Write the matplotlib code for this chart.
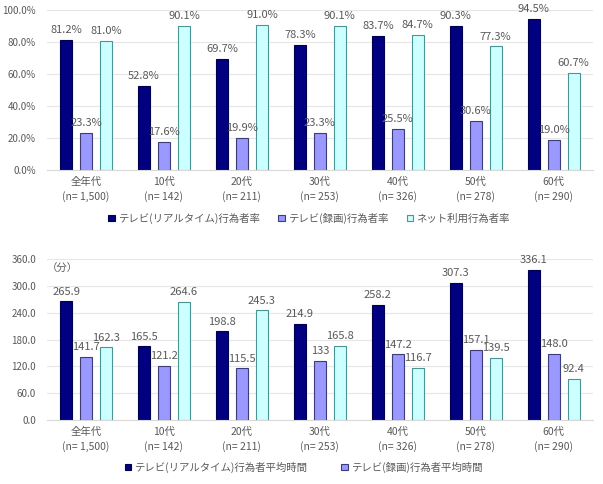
import matplotlib.pyplot as plt
import numpy as np

plt.rcParams['font.family'] = ['Noto Sans CJK JP', 'DejaVu Sans']

groups = ['全年代\n(n= 1,500)', '10代\n(n= 142)', '20代\n(n= 211)', '30代\n(n= 253)',
          '40代\n(n= 326)', '50代\n(n= 278)', '60代\n(n= 290)']

# 行為者率 (%)
real_rate = [81.2, 52.8, 69.7, 78.3, 83.7, 90.3, 94.5]
rec_rate = [23.3, 17.6, 19.9, 23.3, 25.5, 30.6, 19.0]
net_rate = [81.0, 90.1, 91.0, 90.1, 84.7, 77.3, 60.7]

# 行為者平均時間 (分)
real_time = [265.9, 165.5, 198.8, 214.9, 258.2, 307.3, 336.1]
rec_time = [141.7, 121.2, 115.5, 133, 147.2, 157.1, 148.0]
net_time = [162.3, 264.6, 245.3, 165.8, 116.7, 139.5, 92.4]
rec_time_txt = ['141.7', '121.2', '115.5', '133', '147.2', '157.1', '148.0']

colors = ['#000080', '#9999ff', '#ccffff']
edges = ['#000050', '#3c3c78', '#4a9494']
txt = '#595959'

fig = plt.figure(figsize=(6.03, 4.84), dpi=100)
ax1 = fig.add_axes([0.078, 0.649, 0.905, 0.33])
ax2 = fig.add_axes([0.078, 0.132, 0.905, 0.333])

x = np.arange(len(groups))
off = [-0.256, 0, 0.256]
w = 0.155


def style(ax, ymax, step, fmt):
    ax.set_xlim(-0.5, len(groups) - 0.5)
    ax.set_ylim(0, ymax)
    ticks = np.arange(0, ymax + step / 2, step)
    ax.set_yticks(ticks)
    ax.set_yticklabels([fmt(t) for t in ticks], fontsize=7, color=txt)
    ax.set_xticks(x)
    ax.set_xticklabels(groups, fontsize=7.5, color=txt, linespacing=1.45)
    ax.tick_params(length=0, pad=5)
    ax.tick_params(axis='y', pad=8)
    for s in ['top', 'right', 'left']:
        ax.spines[s].set_visible(False)
    ax.spines['bottom'].set_color('#d9d9d9')
    ax.grid(axis='y', color='#e6e6e6', lw=0.8)
    ax.set_axisbelow(True)


# 上段
series1 = [real_rate, rec_rate, net_rate]
names1 = ['テレビ(リアルタイム)行為者率', 'テレビ(録画)行為者率', 'ネット利用行為者率']
for i, vals in enumerate(series1):
    ax1.bar(x + off[i], vals, w, color=colors[i], edgecolor=edges[i], lw=0.8, label=names1[i])
    for xi, v in zip(x + off[i], vals):
        ax1.text(xi, v + 3, f'{v:.1f}%', ha='center', va='bottom', fontsize=8, color=txt)
style(ax1, 100, 20, lambda t: f'{t:.1f}%')
ax1.legend(loc='upper center', bbox_to_anchor=(0.48, -0.21), ncol=3, frameon=False,
           fontsize=7.5, handlelength=0.6, handleheight=0.6, handletextpad=0.3,
           columnspacing=1.8, labelcolor=txt)

# 下段
series2 = [real_time, rec_time, net_time]
labels2 = [[f'{v:.1f}' for v in real_time], rec_time_txt, [f'{v:.1f}' for v in net_time]]
names2 = ['テレビ(リアルタイム)行為者平均時間', 'テレビ(録画)行為者平均時間', 'ネット利用行為者平均時間']
handles = []
for i, vals in enumerate(series2):
    b = ax2.bar(x + off[i], vals, w, color=colors[i], edgecolor=edges[i], lw=0.8, label=names2[i])
    handles.append(b)
    for xi, v, s in zip(x + off[i], vals, labels2[i]):
        ax2.text(xi, v + 10, s, ha='center', va='bottom', fontsize=8, color=txt)
style(ax2, 360, 60, lambda t: f'{t:.1f}')
ax2.text(-0.5, 350, '（分）', fontsize=7.5, color=txt, va='top', ha='left')
ax2.legend(handles=handles[:2], loc='upper center', bbox_to_anchor=(0.47, -0.2), ncol=2,
           frameon=False, fontsize=7.5, handlelength=0.6, handleheight=0.6,
           handletextpad=0.3, columnspacing=3.3, labelcolor=txt)

fig.savefig('out.png', dpi=100)
